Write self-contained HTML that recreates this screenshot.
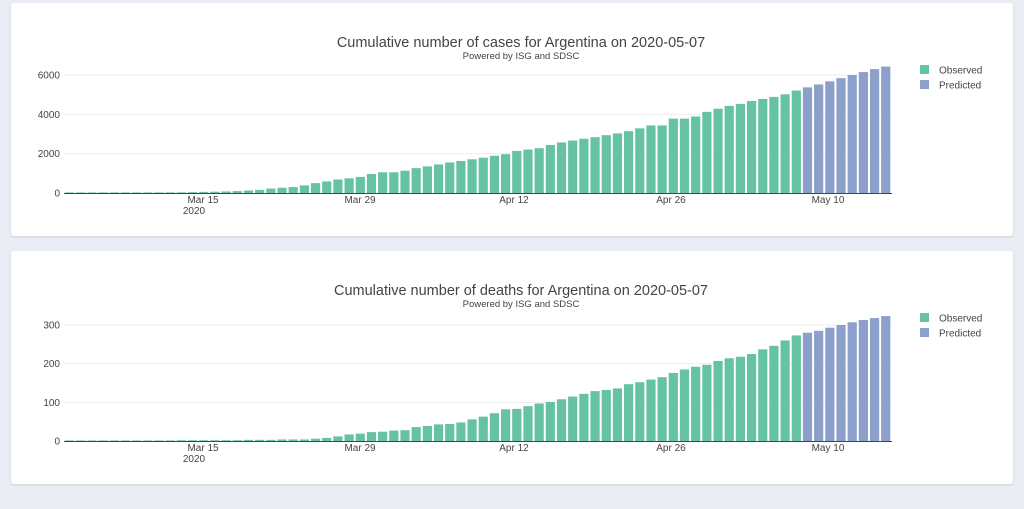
<!DOCTYPE html>
<html><head><meta charset="utf-8"><style>
body{margin:0;width:1024px;height:509px;background:#e9edf3;font-family:"Liberation Sans",sans-serif;overflow:hidden;position:relative}
.card{position:absolute;left:11px;width:1002px;background:#fff;border-radius:3px;box-shadow:0 1px 2px rgba(0,0,0,.12)}
svg{position:absolute;left:0;top:0}
</style></head><body>
<div class="card" style="top:3px;height:233px"></div>
<div class="card" style="top:251px;height:233px"></div>
<svg id="s" width="1024" height="509" font-family="Liberation Sans, sans-serif"></svg>
<script>
var cases=[1,1,2,8,9,12,17,19,19,31,34,45,56,65,79,97,128,158,225,266,301,387,502,589,690,745,820,966,1054,1054,1133,1265,1353,1451,1554,1628,1715,1795,1894,1975,2142,2208,2277,2443,2571,2669,2758,2839,2941,3031,3144,3288,3435,3435,3780,3780,3892,4127,4285,4428,4532,4681,4783,4887,5020,5208];
var cp=[5371,5520,5680,5840,6000,6150,6300,6430];
var deaths=[0,0,0,0,1,1,1,1,1,1,2,2,2,2,2,2,3,3,3,4,4,4,6,8,12,17,19,23,24,27,28,36,39,43,44,48,56,63,72,82,83,90,97,101,108,115,122,129,132,136,147,152,159,165,176,185,192,197,207,214,218,225,237,246,260,273];
var dp=[280,285,293,300,307,313,318,323];
var h='';
function chart(y0,title,obs,pred,ticks,scale){
 h+='<text x="521" y="'+(y0-146)+'" font-size="14.5" fill="#444" text-anchor="middle">'+title+'</text>';
 h+='<text x="521" y="'+(y0-134)+'" font-size="9.5" fill="#444" text-anchor="middle">Powered by ISG and SDSC</text>';
 ticks.forEach(function(t){var y=y0-t*scale;
  if(t>0)h+='<line x1="64" x2="892" y1="'+y+'" y2="'+y+'" stroke="#eee"/>';
  h+='<text x="60" y="'+(y+3.5)+'" font-size="10" fill="#444" text-anchor="end">'+t+'</text>';});
 var all=obs.concat(pred);
 all.forEach(function(v,i){var cx=69.6+i*11.18,bh=Math.max(v*scale,0.6);
  h+='<rect x="'+(cx-4.6)+'" y="'+(y0-bh)+'" width="9.2" height="'+bh+'" fill="'+(i<obs.length?'#66c2a5':'#8da0cb')+'"/>';});
 h+='<line x1="64" x2="892" y1="'+(y0+0.5)+'" y2="'+(y0+0.5)+'" stroke="#444"/>';
 [["Mar 15",203],["Mar 29",360],["Apr 12",514],["Apr 26",671],["May 10",828]].forEach(function(l){
  h+='<text x="'+l[1]+'" y="'+(y0+10)+'" font-size="10" fill="#444" text-anchor="middle">'+l[0]+'</text>';});
 h+='<text x="194" y="'+(y0+21)+'" font-size="10" fill="#444" text-anchor="middle">2020</text>';
 var ly=y0-123;
 h+='<rect x="920" y="'+(ly-5)+'" width="9" height="9" fill="#66c2a5"/><text x="939" y="'+(ly+3.5)+'" font-size="10" fill="#444">Observed</text>';
 h+='<rect x="920" y="'+(ly+10)+'" width="9" height="9" fill="#8da0cb"/><text x="939" y="'+(ly+18.5)+'" font-size="10" fill="#444">Predicted</text>';
}
chart(193,"Cumulative number of cases for Argentina on 2020-05-07",cases,cp,[0,2000,4000,6000],118/6000);
chart(441,"Cumulative number of deaths for Argentina on 2020-05-07",deaths,dp,[0,100,200,300],116/300);
document.getElementById('s').innerHTML=h;
</script>
</body></html>
